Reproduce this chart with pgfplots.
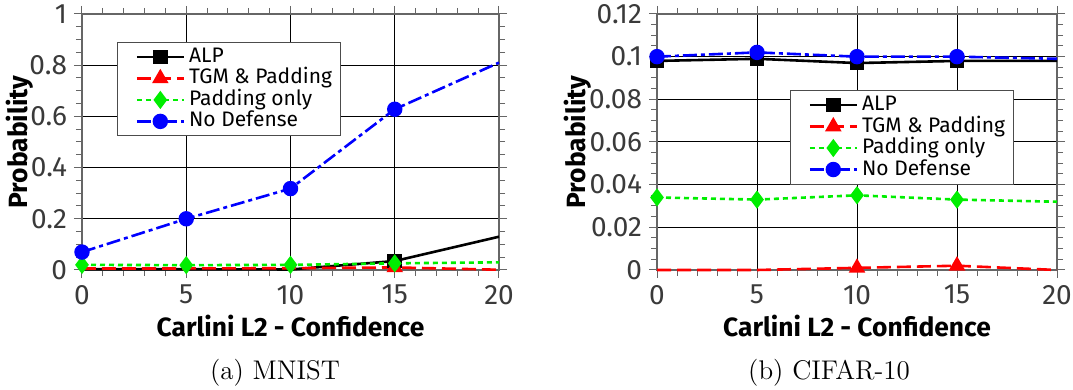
\documentclass[border=0pt]{standalone}
\usepackage{pgfplots}
\pgfplotsset{compat=1.18}
\usepackage{fontspec}
\setmainfont{Fira Sans}
\newfontfamily\lmfont{Latin Modern Roman}
\definecolor{tickgrey}{HTML}{3A3A3A}
\definecolor{mygreen}{HTML}{00EE00}
\pgfplotsset{
  myaxis/.style={
    scale only axis,
    width=208.5pt, height=128pt,
    xmin=0, xmax=20,
    ymin=0,
    xtick={0,5,10,15,20},
    minor x tick num=4,
    grid=major,
    major grid style={black, line width=0.5pt},
    axis line style={black!60, line width=0.6pt},
    tick style={black!60, line width=0.5pt},
    tick align=outside,
    major tick length=4pt, minor tick length=3pt,
    tick label style={font=\fontsize{14}{16}\selectfont, text=tickgrey},
    /pgf/number format/assume math mode=true,
    xlabel={Carlini L2 - Confidence},
    ylabel={Probability},
    every axis x label/.style={at={(rel axis cs:0.5,0)}, anchor=center, yshift=-28pt, font=\fontsize{13.2}{15}\selectfont\bfseries},
    legend style={font=\fontsize{10.5}{10.5}\selectfont, draw=black!70, line width=0.5pt,
      row sep=1.25pt, inner xsep=2.1pt, inner ysep=2.5pt,
      nodes={inner ysep=0pt, text height=7.5pt, text depth=2pt}},
    legend cell align=left,
    legend image code/.code={
      \path (0pt,0pt);
      \draw[#1, mark=none] (6.9pt,0pt) -- (30.4pt,0pt);
      \draw[#1, mark indices={1}, mark options={solid}] plot coordinates {(18.65pt,0pt)};
    },
    clip=false,
  },
  alp/.style={black, line width=1.3pt, mark=square*, mark size=3pt},
  tgm/.style={red, line width=1.3pt, dash pattern=on 7pt off 3pt, mark=triangle*, mark size=3.5pt, mark options={solid}},
  pad/.style={mygreen, line width=1.3pt, dash pattern=on 2.5pt off 2pt, mark=diamond*, mark size=3.5pt, mark options={solid}},
  nodef/.style={blue, line width=1.3pt, dash pattern=on 7pt off 2pt on 2pt off 2pt, mark=*, mark size=3.2pt, mark options={solid}},
}
\begin{document}
\begin{tikzpicture}
\useasboundingbox (0,0) rectangle (536.5pt,195pt);
\begin{axis}[myaxis, at={(41pt,60pt)}, anchor=south west,
  ymax=1, ytick={0,0.2,0.4,0.6,0.8,1}, minor y tick num=3,
  every axis y label/.style={at={([xshift=-31pt]rel axis cs:0,0.5)}, rotate=90, anchor=center, font=\fontsize{13.2}{15}\selectfont\bfseries},
  legend style={at={(0.084,0.891)}, anchor=north west}]
\addplot[alp, mark indices={4}] coordinates {(0,0.003) (5,0.003) (10,0.002) (15,0.035) (20,0.13)};
\addplot[tgm, mark indices={4}] coordinates {(0,0.006) (5,0.006) (10,0.007) (15,0.01) (20,0.001)};
\addplot[pad, mark indices={1,2,3,4}] coordinates {(0,0.02) (5,0.019) (10,0.02) (15,0.026) (20,0.03)};
\addplot[nodef, mark indices={1,2,3,4}] coordinates {(0,0.07) (5,0.2) (10,0.318) (15,0.628) (20,0.81)};
\legend{ALP, TGM \& Padding, Padding only, No Defense}
\end{axis}
\begin{axis}[myaxis, at={(328.5pt,60pt)}, anchor=south west, width=200pt,
  ymax=0.12, ytick={0,0.02,0.04,0.06,0.08,0.1,0.12}, minor y tick num=3,
  yticklabel style={/pgf/number format/fixed, /pgf/number format/precision=2},
  scaled y ticks=false,
  every axis y label/.style={at={([xshift=-39.5pt]rel axis cs:0,0.5)}, rotate=90, anchor=center, font=\fontsize{13.2}{15}\selectfont\bfseries},
  legend style={at={(0.3325,0.703)}, anchor=north west}]
\addplot[alp, mark indices={1,2,3,4}] coordinates {(0,0.098) (5,0.099) (10,0.097) (15,0.098) (20,0.098)};
\addplot[tgm, mark indices={3,4}] coordinates {(0,0) (5,0) (10,0.001) (15,0.002) (20,0)};
\addplot[pad, mark indices={1,2,3,4}] coordinates {(0,0.034) (5,0.033) (10,0.035) (15,0.033) (20,0.032)};
\addplot[nodef, mark indices={1,2,3,4}] coordinates {(0,0.1) (5,0.102) (10,0.1) (15,0.1) (20,0.099)};
\legend{ALP, TGM \& Padding, Padding only, No Defense}
\end{axis}
\node[font=\lmfont\fontsize{13.5}{15}\selectfont, inner sep=0pt] at (137.5pt,8.4pt) {(a) MNIST};
\node[font=\lmfont\fontsize{13.5}{15}\selectfont, inner sep=0pt] at (414.5pt,8.4pt) {(b) CIFAR-10};
\end{tikzpicture}
\end{document}
